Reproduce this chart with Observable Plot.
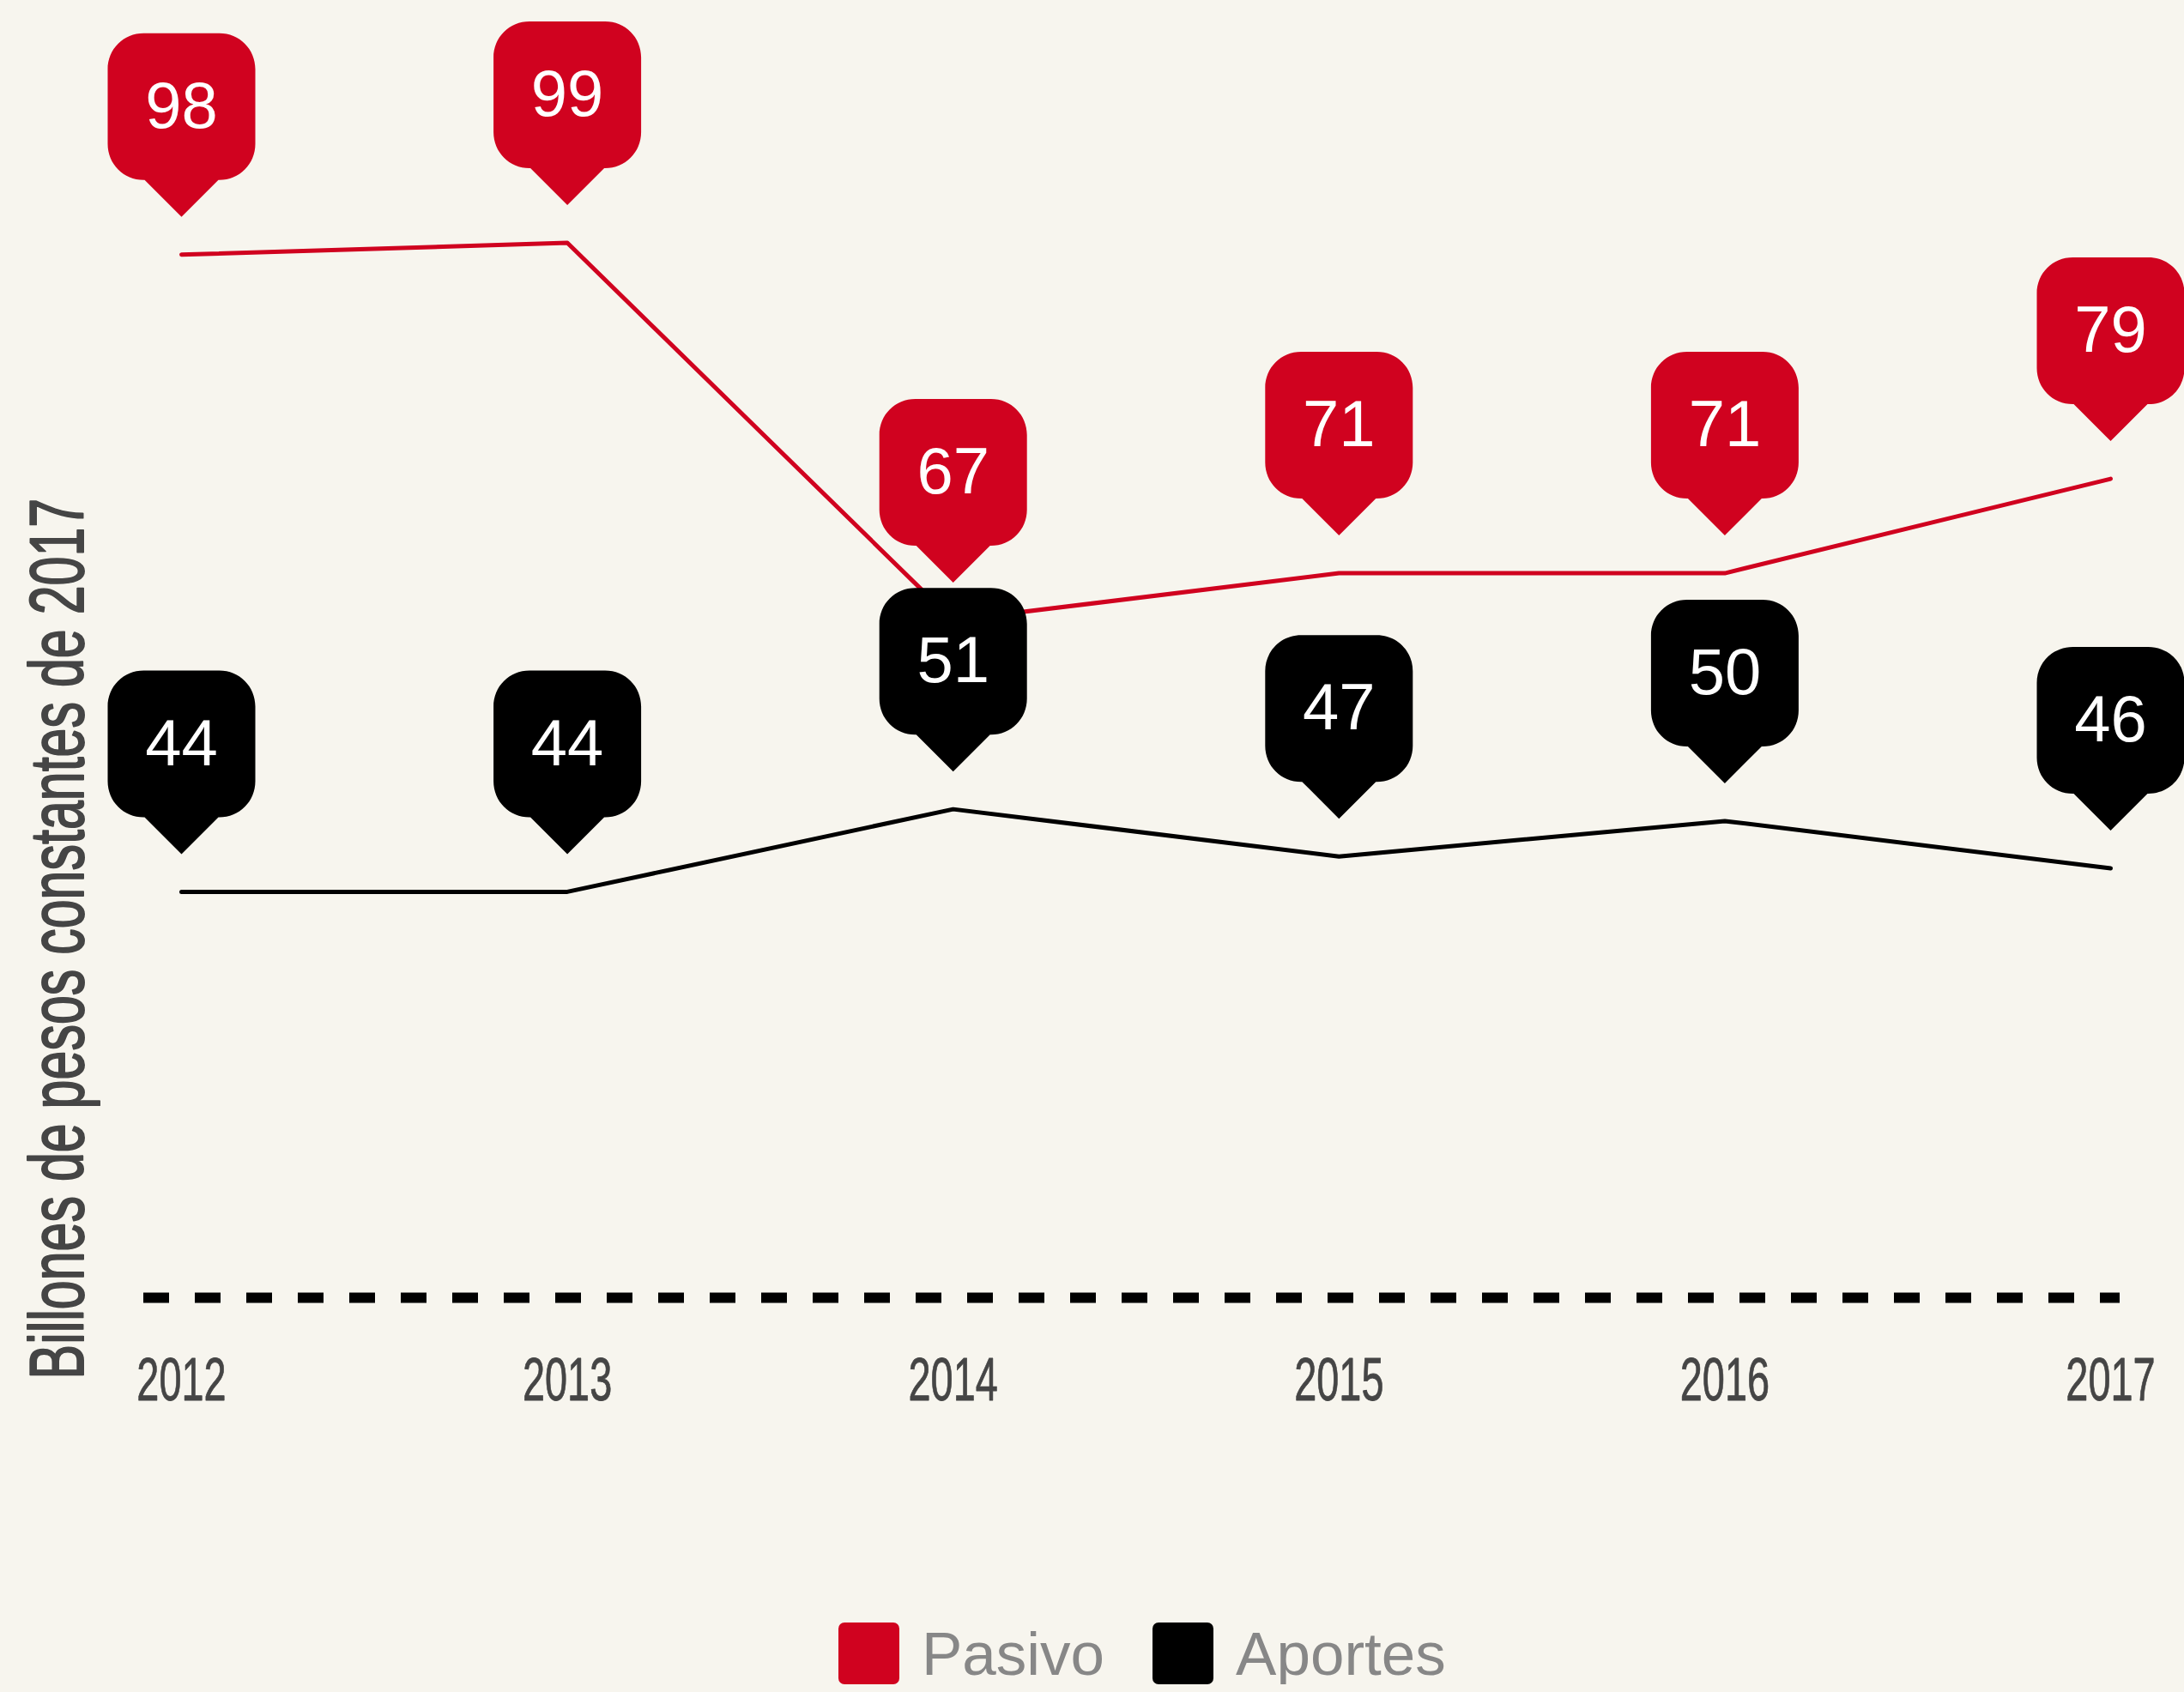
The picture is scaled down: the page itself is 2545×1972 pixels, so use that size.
<!DOCTYPE html>
<html>
<head>
<meta charset="utf-8">
<script src="https://cdn.jsdelivr.net/npm/d3@7"></script>
<script src="https://cdn.jsdelivr.net/npm/@observablehq/plot@0.6"></script>
<style>
html, body { margin: 0; padding: 0; background: #f7f5ee; }
#chart svg { display: block; }
#legend { display: flex; align-items: center; padding-left: 977px; margin-top: 31px; height: 72px;
  font-family: "Liberation Sans", Arial, sans-serif; font-size: 71px; color: #878787; }
#legend .item { display: flex; align-items: center; margin-right: 56px; }
#legend .sw { width: 71px; height: 72px; border-radius: 7px; margin-right: 26px; }
</style>
</head>
<body>
<div id="chart"></div>
<div id="legend"></div>
<script>
// ---- data ----
const years = [2012, 2013, 2014, 2015, 2016, 2017];
const pasivo = [98, 99, 67, 71, 71, 79];
const aportes = [44, 44, 51, 47, 50, 46];
const seriesNames = ["Pasivo", "Aportes"];
const seriesColors = ["#d0021f", "#000000"];
const yTitle = "Billones de pesos constantes de 2017";
const yDomain = [9.6, 105];

const rows = [
  ...years.map((year, i) => ({year, value: pasivo[i], series: seriesNames[0]})),
  ...years.map((year, i) => ({year, value: aportes[i], series: seriesNames[1]}))
];

// callout balloon shape (drawn relative to the data point)
const W = 86, TOP = -258, BOT = -87, R = 42, K = 0.56, PW = 43, TIP = -44;
const callout = {
  draw(ctx) {
    const c = R * (1 - K);
    ctx.moveTo(-W + R, TOP);
    ctx.lineTo(W - R, TOP);
    ctx.bezierCurveTo(W - c, TOP, W, TOP + c, W, TOP + R);
    ctx.lineTo(W, BOT - R);
    ctx.bezierCurveTo(W, BOT - c, W - c, BOT, W - R, BOT);
    ctx.lineTo(PW, BOT);
    ctx.lineTo(0, TIP);
    ctx.lineTo(-PW, BOT);
    ctx.lineTo(-W + R, BOT);
    ctx.bezierCurveTo(-W + c, BOT, -W, BOT - c, -W, BOT - R);
    ctx.lineTo(-W, TOP + R);
    ctx.bezierCurveTo(-W, TOP + c, -W + c, TOP, -W + R, TOP);
    ctx.closePath();
  }
};

const labelFill = "#454545";
const color = {domain: seriesNames, range: seriesColors};

const chart = Plot.plot({
  width: 2545,
  height: 1860,
  marginLeft: 167,
  marginRight: 75,
  marginTop: 200,
  marginBottom: 348,
  x: {domain: [years[0], years[years.length - 1]], insetLeft: 44, insetRight: 11, axis: null},
  y: {domain: yDomain, axis: null},
  color,
  style: {background: "#f7f5ee", fontFamily: "'Liberation Sans', Arial, sans-serif", overflow: "visible"},
  marks: [
    Plot.ruleY([yDomain[0]], {stroke: "#000", strokeWidth: 12, strokeDasharray: "30,30"}),
    Plot.line(rows, {x: "year", y: "value", z: "series", stroke: "series", strokeWidth: 5}),
    Plot.dot(rows, {x: "year", y: "value", fill: "series", symbol: callout, r: 10}),
    Plot.text(rows, {x: "year", y: "value", text: d => String(d.value), fill: "#ffffff",
      fontSize: 76, dy: -172, fontFamily: "'Liberation Sans', Arial, sans-serif"}),
    Plot.text(years, {x: d => d, text: d => String(d), frameAnchor: "bottom", dy: 119,
      fontSize: 70, fill: labelFill, stroke: labelFill, strokeWidth: 0.8,
      fontFamily: "'Liberation Sans', Arial, sans-serif"}),
    Plot.text([yTitle], {frameAnchor: "bottom-left", rotate: -90, textAnchor: "start", lineAnchor: "bottom",
      dx: -71, dy: 95, fontSize: 89, fill: labelFill, stroke: labelFill, strokeWidth: 2,
      fontFamily: "'Liberation Sans', Arial, sans-serif"})
  ]
});
document.getElementById("chart").appendChild(chart);

// condense the axis-style labels horizontally (narrow display face)
chart.querySelectorAll("text").forEach(t => {
  if (!t.closest(`[fill="${labelFill}"]`)) return;
  const sx = t.textContent.length > 10 ? 0.685 : 0.67;
  const tr = t.getAttribute("transform") || "";
  t.setAttribute("transform", `${tr} scale(${sx},1)`);
});

// legend
const legend = d3.select("#legend");
seriesNames.forEach((name, i) => {
  const item = legend.append("div").attr("class", "item");
  item.append("div").attr("class", "sw").style("background", seriesColors[i]);
  item.append("span").text(name);
});
</script>
</body>
</html>
